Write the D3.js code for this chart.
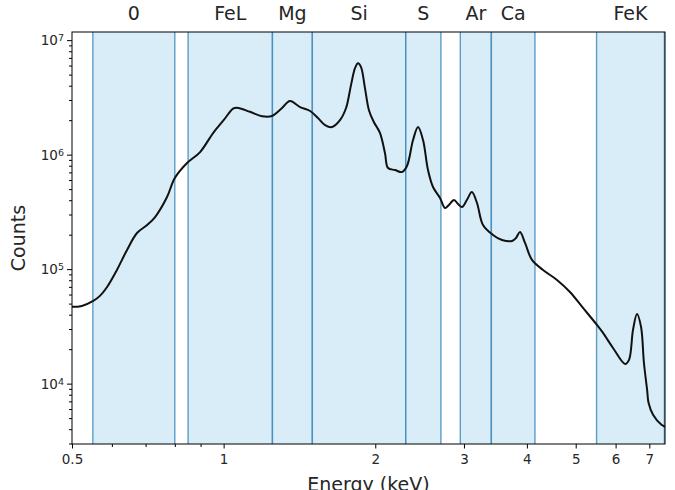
<!DOCTYPE html>
<meta charset="utf-8">
<style>
    body { margin: 0; background: #fff; }
    svg text { font-family: "DejaVu Sans", sans-serif; fill: #262626; }
</style>
<svg width="675" height="490"></svg>
<script src="https://d3js.org/d3.v7.min.js"></script>
<script>

    // spectrum (keV, counts)
    var energy = [0.5, 0.523, 0.551, 0.568, 0.587, 0.614, 0.643, 0.673, 0.705, 0.731,
        0.772, 0.80, 0.846, 0.898, 0.953, 1.0, 1.044, 1.063, 1.128, 1.192,
        1.247, 1.306, 1.354, 1.418, 1.485, 1.539, 1.59, 1.641, 1.702, 1.75,
        1.79, 1.823, 1.848, 1.874, 1.908, 1.943, 1.988, 2.044, 2.091, 2.12,
        2.189, 2.26, 2.312, 2.377, 2.432, 2.488, 2.545, 2.604, 2.689, 2.751,
        2.80, 2.867, 2.92, 2.973, 3.04, 3.11, 3.184, 3.273, 3.425, 3.57,
        3.737, 3.805, 3.876, 3.966, 4.094, 4.306, 4.59, 4.87, 5.17, 5.51,
        5.665, 5.93, 6.265, 6.38, 6.497, 6.616, 6.74, 6.83, 6.93, 6.975,
        7.12, 7.40, 7.52];
    var counts = [4.73e4, 4.82e4, 5.33e4, 5.9e4, 7.06e4, 9.94e4, 1.486e5, 2.09e5, 2.455e5, 2.88e5,
        4.31e5, 6.31e5, 8.53e5, 1.064e6, 1.56e6, 2.02e6, 2.55e6, 2.6e6, 2.39e6, 2.19e6,
        2.2e6, 2.58e6, 2.97e6, 2.63e6, 2.43e6, 2.11e6, 1.83e6, 1.76e6, 2.02e6, 2.58e6,
        4.09e6, 5.75e6, 6.36e6, 5.88e6, 3.85e6, 2.47e6, 1.94e6, 1.56e6, 1.04e6, 7.72e5,
        7.41e5, 7.12e5, 8.04e5, 1.355e6, 1.76e6, 1.355e6, 7.41e5, 5.27e5, 4.22e5, 3.45e5,
        3.67e5, 4.06e5, 3.74e5, 3.52e5, 4.06e5, 4.76e5, 3.82e5, 2.455e5, 2.01e5, 1.815e5,
        1.78e5, 1.89e5, 2.13e5, 1.71e5, 1.216e5, 9.94e4, 8.13e4, 6.38e4, 4.63e4, 3.29e4,
        2.8e4, 2.07e4, 1.5e4, 1.63e4, 2.98e4, 4.1e4, 3.16e4, 1.53e4, 8.9e3, 6.87e3,
        5.4e3, 4.41e3, 4.24e3];

    // element bands
    var bandNames = ["0", "FeL", "Mg", "Si", "S", "Ar", "Ca", "FeK"];
    var bandLo = [0.55, 0.85, 1.25, 1.50, 2.30, 2.95, 3.40, 5.50];
    var bandHi = [0.80, 1.25, 1.50, 2.30, 2.70, 3.40, 4.15, 7.50];

    var xTicks = [0.5, 0.6, 0.7, 0.8, 0.9, 1, 2, 3, 4, 5, 6, 7];
    var xTickLabels = ["0.5", "", "", "", "", "1", "2", "3", "4", "5", "6", "7"];
    var yMajor = [1e4, 1e5, 1e6, 1e7];

    var svg = d3.select("svg"),
        margin = {top: 32, right: 10, bottom: 46, left: 72},
        width = +svg.attr("width") - margin.left - margin.right,
        height = +svg.attr("height") - margin.top - margin.bottom,
        g = svg.append("g").attr("transform",
            "translate(" + margin.left + "," + margin.top + ")");

    var x = d3.scaleLog().domain([0.5, 7.52]).range([0, width]);
    var y = d3.scaleLog().domain([3.0e3, 1.19e7]).range([height, 0]);

    svg.append("defs").append("clipPath").attr("id", "clip")
        .append("rect").attr("width", width).attr("height", height);

    var bands = bandNames.map(function (n, i) {
        return {name: n, lo: bandLo[i], hi: Math.min(bandHi[i], x.domain()[1])};
    });

    // shaded bands
    var band = g.selectAll(".band")
        .data(bands)
        .enter().append("g")
        .attr("class", "band");

    band.append("rect")
        .attr("x", function (d) { return x(d.lo); })
        .attr("width", function (d) { return x(d.hi) - x(d.lo); })
        .attr("y", 0)
        .attr("height", height)
        .attr("fill", "#d8edf7");

    band.selectAll("line")
        .data(function (d) { return [d.lo, d.hi]; })
        .enter().append("line")
        .attr("x1", function (d) { return x(d); })
        .attr("x2", function (d) { return x(d); })
        .attr("y1", 0)
        .attr("y2", height)
        .attr("stroke", "#1f77b4")
        .attr("stroke-opacity", 0.7)
        .attr("stroke-width", 1.4);

    // labels above the frame
    svg.selectAll(".blabel")
        .data(bands)
        .enter().append("text")
        .attr("class", "blabel")
        .attr("x", function (d) { return margin.left + x(Math.sqrt(d.lo * d.hi)); })
        .attr("y", 20)
        .attr("text-anchor", "middle")
        .style("font-size", "19px")
        .text(function (d) { return d.name; });

    // spectrum line
    var line = d3.line()
        .x(function (d) { return x(d[0]); })
        .y(function (d) { return y(d[1]); })
        .curve(d3.curveCatmullRom);

    g.append("path")
        .datum(d3.zip(energy, counts))
        .attr("clip-path", "url(#clip)")
        .attr("d", line)
        .attr("fill", "none")
        .attr("stroke", "#111")
        .attr("stroke-width", 2);

    // x axis
    var xAxis = g.append("g")
        .attr("transform", "translate(0," + height + ")")
        .call(d3.axisBottom(x)
            .tickValues(xTicks)
            .tickSize(0)
            .tickFormat(function (d, i) { return xTickLabels[i]; }));
    xAxis.select(".domain").remove();
    xAxis.selectAll(".tick line")
        .attr("y2", function (d, i) { return xTickLabels[i] ? 4.5 : 3; })
        .attr("stroke", "#000");
    xAxis.selectAll(".tick text")
        .attr("y", 10)
        .style("font-size", "13.5px")
        .style("font-family", "DejaVu Sans");

    // y axis
    var yMinor = [];
    yMajor.concat([1e3]).forEach(function (p) {
        for (var k = 2; k < 10; k++) {
            var v = p * k;
            if (v >= y.domain()[0] && v <= y.domain()[1]) yMinor.push(v);
        }
    });

    g.selectAll(".ytick-minor")
        .data(yMinor)
        .enter().append("line")
        .attr("x1", -3).attr("x2", 0)
        .attr("y1", function (d) { return y(d); })
        .attr("y2", function (d) { return y(d); })
        .attr("stroke", "#000");

    var yt = g.selectAll(".ytick")
        .data(yMajor)
        .enter().append("g")
        .attr("transform", function (d) { return "translate(0," + y(d) + ")"; });
    yt.append("line").attr("x1", -5).attr("x2", 0).attr("stroke", "#000");
    var ytx = yt.append("text")
        .attr("x", -8)
        .attr("dy", "0.35em")
        .attr("text-anchor", "end")
        .style("font-size", "13.5px");
    ytx.append("tspan").text("10");
    ytx.append("tspan")
        .attr("dy", "-0.45em")
        .style("font-size", "9.5px")
        .text(function (d) { return Math.round(Math.log10(d)); });

    // frame
    g.append("rect")
        .attr("width", width)
        .attr("height", height)
        .attr("fill", "none")
        .attr("stroke", "#000")
        .attr("stroke-width", 1);

    // axis titles
    svg.append("text")
        .attr("x", margin.left + width / 2)
        .attr("y", 491)
        .attr("text-anchor", "middle")
        .style("font-size", "19px")
        .text("Energy (keV)");

    svg.append("text")
        .attr("transform", "translate(24.5," + (margin.top + height / 2) + ") rotate(-90)")
        .attr("text-anchor", "middle")
        .style("font-size", "19px")
        .text("Counts");
</script>
